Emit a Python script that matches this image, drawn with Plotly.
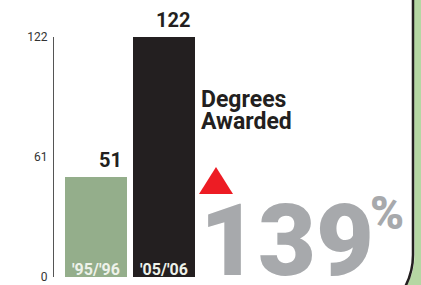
import plotly.graph_objects as go

# ---- data ----
categories = ["'95/'96", "'05/'06"]
values = [51, 122]
value_labels = ["51", "122"]
tick_vals = [0, 61, 122]
tick_text = ["0", "61", "122"]
bar_colors = ["#94ae8b", "#231f20"]
title_lines = ["Degrees", "Awarded"]
change_text = "139"
change_unit = "%"

W, H = 421, 285
L, R, T, B = 54, 217, 37, 8
PW, PH = W - L - R, H - T - B

def px(X, Y):
    return (X - L) / PW, (H - B - Y) / PH

FONT = "Roboto, Liberation Sans, Arial, sans-serif"

fig = go.Figure()
fig.add_trace(go.Bar(
    x=[0, 1], y=values, marker=dict(color=bar_colors, line=dict(width=0)),
    width=0.91, hoverinfo="skip", showlegend=False,
))

ann = []
# value labels above bars
for i, (v, t) in enumerate(zip(values, value_labels)):
    ann.append(dict(x=i, y=v, xref="x", yref="y", text=f"<b>{t}</b>", showarrow=False,
                    xanchor="right", yanchor="middle", xshift=28, yshift=17,
                    font=dict(family=FONT, size=20, color="#231f20")))
# category labels inside bars
for i, c in enumerate(categories):
    ann.append(dict(x=i, y=0, xref="x", yref="y", text=f"<b>{c}</b>", showarrow=False,
                    xanchor="center", yanchor="middle", yshift=8,
                    font=dict(family=FONT, size=16, color="#eef2ea")))
# title
for j, (line, yc) in enumerate(zip(title_lines, [99, 121.5])):
    x0, y0 = px(199, yc)
    ann.append(dict(x=x0, y=y0, xref="paper", yref="paper", text=f"<b>{line}</b>", showarrow=False,
                    xanchor="left", yanchor="middle",
                    font=dict(family=FONT, size=23, color="#231f20")))
# big percent
x0, y0 = px(198, 240)
ann.append(dict(x=x0, y=y0, xref="paper", yref="paper", text=change_text, showarrow=False,
                xanchor="left", yanchor="middle",
                font=dict(family=FONT, size=100, color="#a7a9ac", weight=900)))
x0, y0 = px(368, 213)
ann.append(dict(x=x0, y=y0, xref="paper", yref="paper", text=change_unit, showarrow=False,
                xanchor="left", yanchor="middle",
                font=dict(family=FONT, size=46, color="#a7a9ac", weight=900)))

def P(X, Y):
    a, b = px(X, Y)
    return f"{a:.5f},{b:.5f}"

shapes = [
    # red triangle
    dict(type="path", xref="paper", yref="paper",
         path=f"M {P(199,194)} L {P(216,167)} L {P(233,194)} Z",
         fillcolor="#ed1c24", line=dict(width=0)),
    # green background at right
    dict(type="path", xref="paper", yref="paper",
         path=f"M {P(414,0)} L {P(421,0)} L {P(421,285)} L {P(407,285)} Q {P(414.5,272)} {P(414.5,255)} Z",
         fillcolor="#b5d7a3", line=dict(width=0)),
    # black border with rounded corner
    dict(type="path", xref="paper", yref="paper",
         path=f"M {P(413,-2)} L {P(413,255)} Q {P(413,272)} {P(405,287)}",
         line=dict(color="#231f20", width=2.5)),
]

fig.update_layout(
    width=W, height=H, margin=dict(l=L, r=R, t=T, b=B, autoexpand=False),
    paper_bgcolor="white", plot_bgcolor="white",
    bargap=0,
    xaxis=dict(range=[-0.618, -0.618 + PW / 68], showgrid=False, zeroline=False,
               showticklabels=False, showline=False, fixedrange=True, automargin=False),
    yaxis=dict(range=[0, 122], tickvals=tick_vals, ticktext=tick_text, showgrid=False,
               zeroline=False, showline=True, linecolor="#555555", linewidth=1.3,
               ticks="", ticklabelstandoff=3, automargin=False,
               tickfont=dict(family=FONT, size=12, color="#333333"), fixedrange=True),
    annotations=ann, shapes=shapes,
    font=dict(family=FONT),
)

fig.write_html("out.html", config={"displayModeBar": False},
               post_script="document.body.style.margin='0';")
